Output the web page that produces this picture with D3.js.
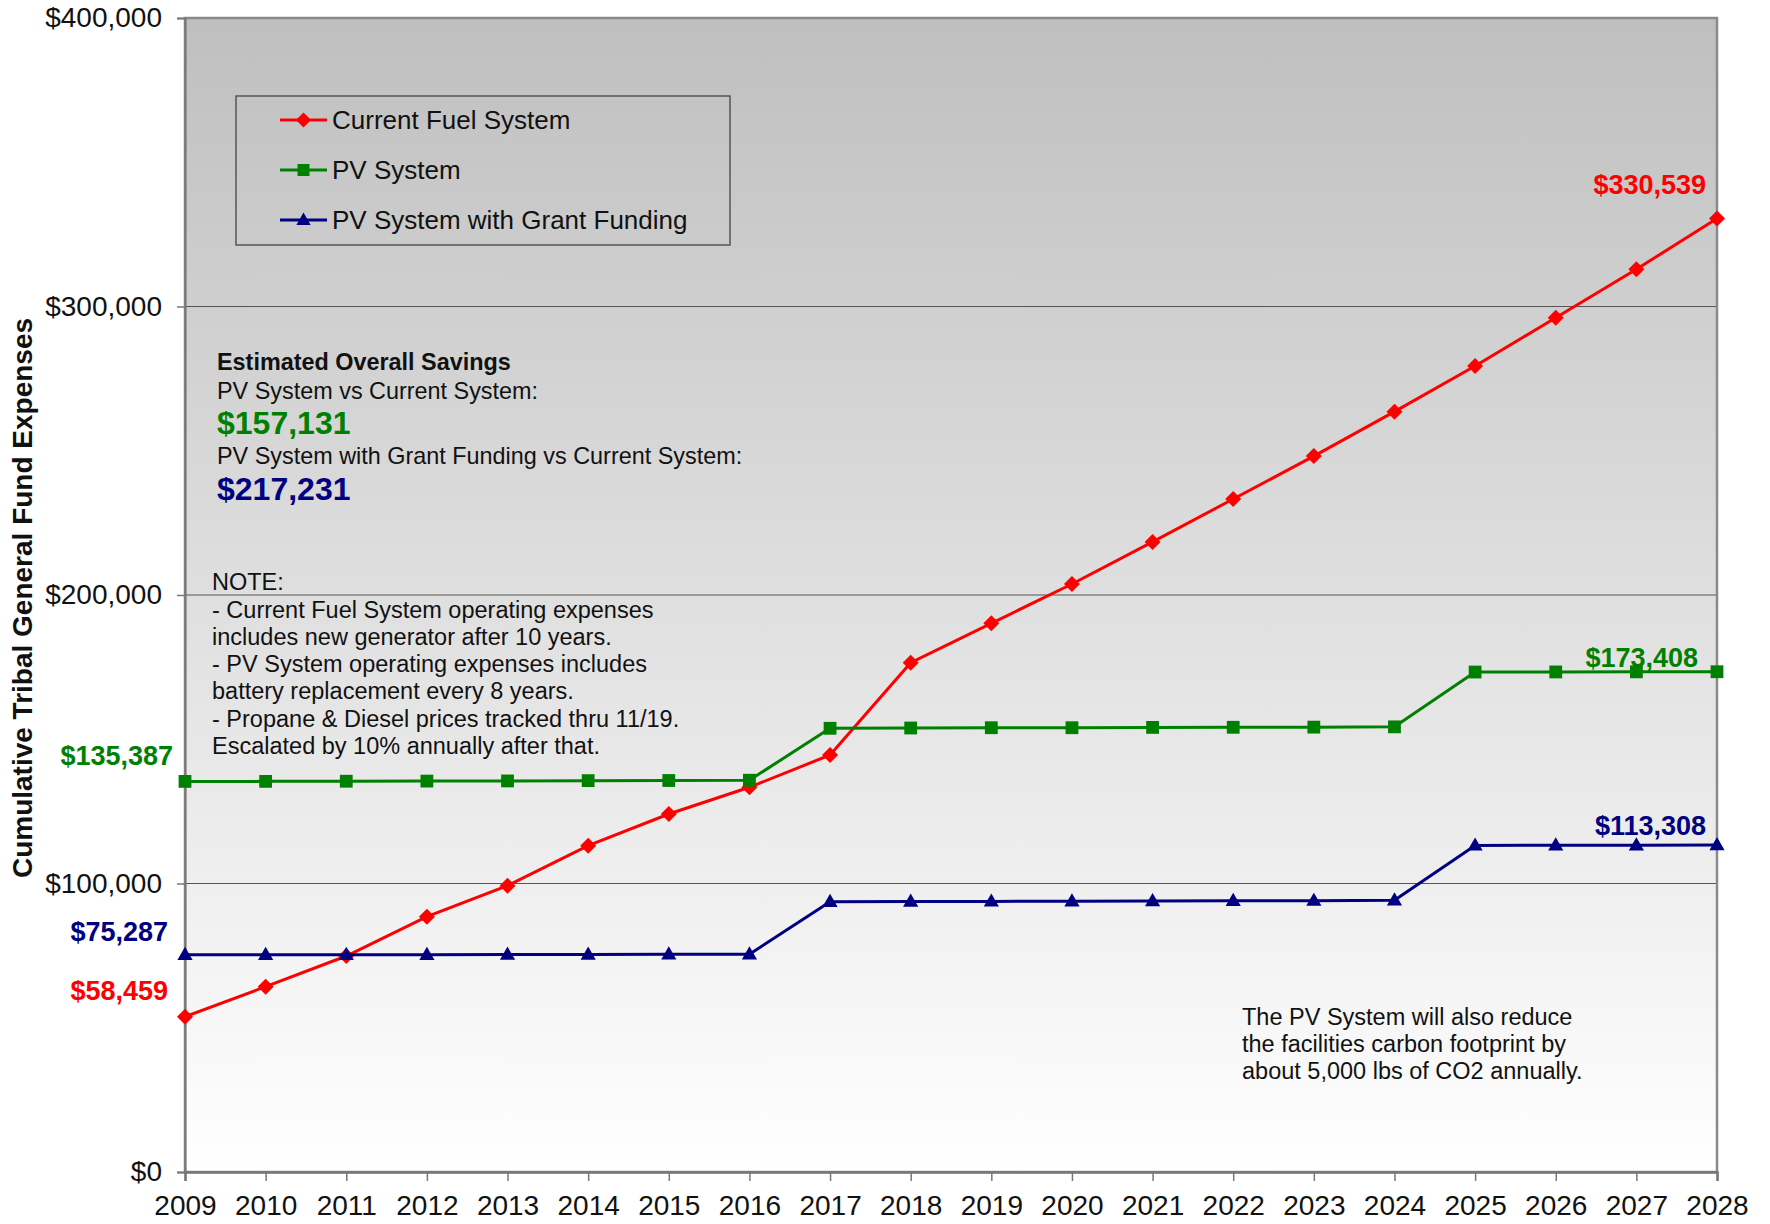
<!DOCTYPE html>
<html>
<head>
<meta charset="utf-8">
<script src="https://cdn.jsdelivr.net/npm/d3@7"></script>
<style>
  html, body { margin: 0; padding: 0; background: #ffffff; }
  svg { display: block; font-family: "Liberation Sans", Arial, sans-serif; }
</style>
</head>
<body>
<svg id="chart" width="1770" height="1224"></svg>
<script>
// ---------- data ----------
const years = [2009, 2010, 2011, 2012, 2013, 2014, 2015, 2016, 2017, 2018,
               2019, 2020, 2021, 2022, 2023, 2024, 2025, 2026, 2027, 2028];
const currentFuel = [53830, 64230, 74870, 88490, 99240, 113100, 124090, 133350, 144540, 176540,
                     190190, 203810, 218400, 233270, 248140, 263540, 279380, 296120, 312890, 330539];
const pvSystem = [135387, 135400, 135450, 135500, 135550, 135650, 135700, 135800, 153800, 153900,
                  154000, 154000, 154100, 154150, 154200, 154300, 173300, 173330, 173370, 173408];
const pvGrant = [75287, 75287, 75300, 75320, 75350, 75400, 75450, 75500, 93700, 93750,
                 93800, 93850, 93950, 94000, 94050, 94200, 113200, 113250, 113280, 113308];
const yTicks = [0, 100000, 200000, 300000, 400000];
const seriesNames = ["Current Fuel System", "PV System", "PV System with Grant Funding"];
const seriesColors = ["#ff0000", "#008000", "#000080"];
const seriesMarkers = ["diamond", "square", "triangle"];
const startLabels = ["$58,459", "$135,387", "$75,287"];
const endLabels = ["$330,539", "$173,408", "$113,308"];
const yTitle = "Cumulative Tribal General Fund Expenses";
const savingsTitle = "Estimated Overall Savings";
const savingsLines = ["PV System vs Current System:", "$157,131",
                      "PV System with Grant Funding vs Current System:", "$217,231"];
const noteLines = ["NOTE:",
  "- Current Fuel System operating expenses",
  "includes new generator after 10 years.",
  "- PV System operating expenses includes",
  "battery replacement every 8 years.",
  "- Propane & Diesel prices tracked thru 11/19.",
  "Escalated by 10% annually after that."];
const co2Lines = ["The PV System will also reduce",
  "the facilities carbon footprint by",
  "about 5,000 lbs of CO2 annually."];

// ---------- layout ----------
const svg = d3.select("#chart");
const L = 185, R = 1717, T = 18, B = 1172;
const x = d3.scalePoint().domain(years).range([L, R]);
const y = d3.scaleLinear().domain([0, 400000]).range([B, T]);
const allSeries = [currentFuel, pvSystem, pvGrant];

// background gradient
const defs = svg.append("defs");
const grad = defs.append("linearGradient").attr("id", "bg")
  .attr("x1", 0).attr("y1", 0).attr("x2", 0).attr("y2", 1);
grad.append("stop").attr("offset", "0%").attr("stop-color", "#bfbfbf");
grad.append("stop").attr("offset", "100%").attr("stop-color", "#ffffff");
svg.append("rect").attr("x", L).attr("y", T).attr("width", R - L).attr("height", B - T)
  .attr("fill", "url(#bg)");

// gridlines
svg.append("g").selectAll("line").data(yTicks.filter(d => d > 0 && d < 400000)).join("line")
  .attr("x1", L).attr("x2", R).attr("y1", d => y(d)).attr("y2", d => y(d))
  .attr("stroke", "#555").attr("stroke-width", 1.2);

// plot border
svg.append("rect").attr("x", L).attr("y", T).attr("width", R - L).attr("height", B - T)
  .attr("fill", "none").attr("stroke", "#8a8a8a").attr("stroke-width", 2.5);

// y axis
const yAxis = d3.axisLeft(y).tickValues(yTicks).tickSize(8).tickPadding(15)
  .tickFormat(d => "$" + d3.format(",")(d));
const gy = svg.append("g").attr("transform", `translate(${L},0)`).call(yAxis);
gy.select(".domain").attr("stroke", "#777").attr("stroke-width", 2);
gy.selectAll(".tick line").attr("stroke", "#777").attr("stroke-width", 1.5);
gy.selectAll(".tick text").attr("font-size", 28).attr("fill", "#111")
  .attr("font-family", "Liberation Sans, Arial, sans-serif");

// x axis
const xAxis = d3.axisBottom(x).tickSize(9).tickPadding(14).tickFormat(d => String(d));
const gx = svg.append("g").attr("transform", `translate(0,${B})`).call(xAxis);
gx.select(".domain").attr("stroke", "#777").attr("stroke-width", 2.5);
gx.selectAll(".tick line").attr("stroke", "#777").attr("stroke-width", 1.5);
gx.selectAll(".tick text").attr("font-size", 28).attr("fill", "#111")
  .attr("font-family", "Liberation Sans, Arial, sans-serif");

// y title
svg.append("text").attr("transform", `translate(32,${(316 + 880) / 2}) rotate(-90)`)
  .attr("text-anchor", "middle").attr("font-size", 28).attr("font-weight", "bold")
  .attr("fill", "#111").text(yTitle);

// marker generator
function markerPath(type, s) {
  if (type === "diamond") return `M0,${-s}L${s},0L0,${s}L${-s},0Z`;
  if (type === "square") return `M${-s * 0.8},${-s * 0.8}h${s * 1.6}v${s * 1.6}h${-s * 1.6}Z`;
  return `M0,${-s}L${s * 0.95},${s * 0.65}L${-s * 0.95},${s * 0.65}Z`;
}

// lines + markers
const line = d3.line().x((d, i) => x(years[i])).y(d => y(d));
allSeries.forEach((vals, si) => {
  svg.append("path").datum(vals).attr("d", line).attr("fill", "none")
    .attr("stroke", seriesColors[si]).attr("stroke-width", 3);
  svg.append("g").selectAll("path").data(vals).join("path")
    .attr("transform", (d, i) => `translate(${x(years[i])},${y(d)})`)
    .attr("d", markerPath(seriesMarkers[si], 8))
    .attr("fill", seriesColors[si]);
});

// legend
svg.append("rect").attr("x", 236).attr("y", 96).attr("width", 494).attr("height", 149)
  .attr("fill", "none").attr("stroke", "#555").attr("stroke-width", 1.5);
seriesNames.forEach((name, i) => {
  const ly = 120 + i * 50;
  svg.append("line").attr("x1", 280).attr("x2", 327).attr("y1", ly).attr("y2", ly)
    .attr("stroke", seriesColors[i]).attr("stroke-width", 3);
  svg.append("path").attr("transform", `translate(303.5,${ly})`)
    .attr("d", markerPath(seriesMarkers[i], 7.5)).attr("fill", seriesColors[i]);
  svg.append("text").attr("x", 332).attr("y", ly).attr("dy", "0.35em")
    .attr("font-size", 26).attr("fill", "#111").text(name);
});

// end / start labels
const labelPos = [
  { sx: 168, sy: 991, ex: 1706, ey: 185 },
  { sx: 173, sy: 756, ex: 1698, ey: 658 },
  { sx: 168, sy: 932, ex: 1706, ey: 826 }
];
labelPos.forEach((p, i) => {
  svg.append("text").attr("x", p.sx).attr("y", p.sy).attr("dy", "0.35em")
    .attr("text-anchor", "end").attr("font-size", 27).attr("font-weight", "bold")
    .attr("fill", seriesColors[i]).text(startLabels[i]);
  svg.append("text").attr("x", p.ex).attr("y", p.ey).attr("dy", "0.35em")
    .attr("text-anchor", "end").attr("font-size", 27).attr("font-weight", "bold")
    .attr("fill", seriesColors[i]).text(endLabels[i]);
});

// savings annotation
svg.append("text").attr("x", 217).attr("y", 362).attr("dy", "0.35em")
  .attr("font-size", 23.4).attr("font-weight", "bold").attr("fill", "#111").text(savingsTitle);
const savY = [391, 423, 456, 489];
savingsLines.forEach((t, i) => {
  const big = i % 2 === 1;
  svg.append("text").attr("x", 217).attr("y", savY[i]).attr("dy", "0.35em")
    .attr("font-size", big ? 32 : 23.4).attr("font-weight", big ? "bold" : "normal")
    .attr("fill", big ? (i === 1 ? "#008000" : "#000080") : "#111").text(t);
});

// note
noteLines.forEach((t, i) => {
  svg.append("text").attr("x", 212).attr("y", 582 + i * 27.3).attr("dy", "0.35em")
    .attr("font-size", 23.5).attr("fill", "#111").text(t);
});

// CO2 note
co2Lines.forEach((t, i) => {
  svg.append("text").attr("x", 1242).attr("y", 1017 + i * 27).attr("dy", "0.35em")
    .attr("font-size", 23.5).attr("fill", "#111").text(t);
});
</script>
</body>
</html>
